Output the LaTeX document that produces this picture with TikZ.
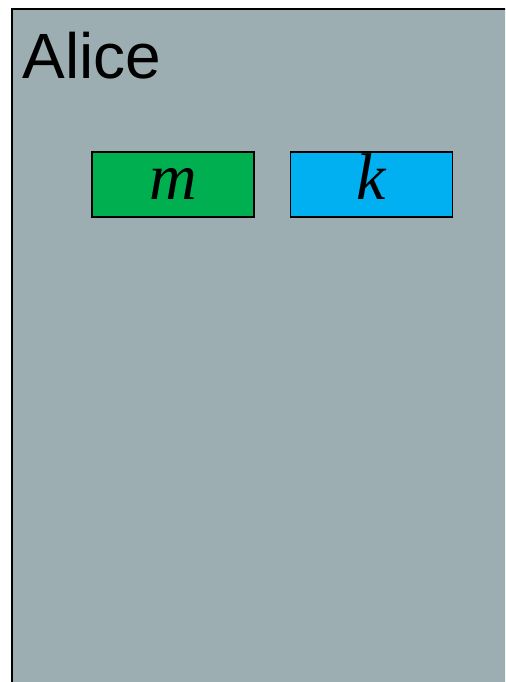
\documentclass[tikz,border=0pt]{standalone}
\usepackage{fontspec}
\setmainfont{Liberation Serif}
\setsansfont{Liberation Sans}
\usetikzlibrary{positioning}
\definecolor{partygray}{HTML}{9DAEB2}
\definecolor{msggreen}{HTML}{00B050}
\definecolor{keyblue}{HTML}{00B0F0}
\begin{document}
\begin{tikzpicture}[x=0.5pt,y=-0.5pt,
	party/.style={draw,line width=1pt,fill=partygray},
	val/.style={draw,line width=0.75pt,minimum width=81pt,minimum height=32.5pt,inner sep=0pt,text height=14.5pt,text depth=0pt,font=\fontsize{33}{33}\selectfont\itshape}]
	\useasboundingbox (0,0) rectangle (505,682);
	\clip (0,0) rectangle (505,682);
	\draw[party] (12,9) rectangle (540,720);
	\node[anchor=base west,inner sep=0pt,font=\sffamily\fontsize{32}{32}\selectfont] (alice) at (22,78) {Alice};
	\node[val,fill=msggreen] (msg) at (173,184.5) {m};
	\node[val,fill=keyblue,right=17.5pt of msg] (key) {k};
\end{tikzpicture}
\end{document}
